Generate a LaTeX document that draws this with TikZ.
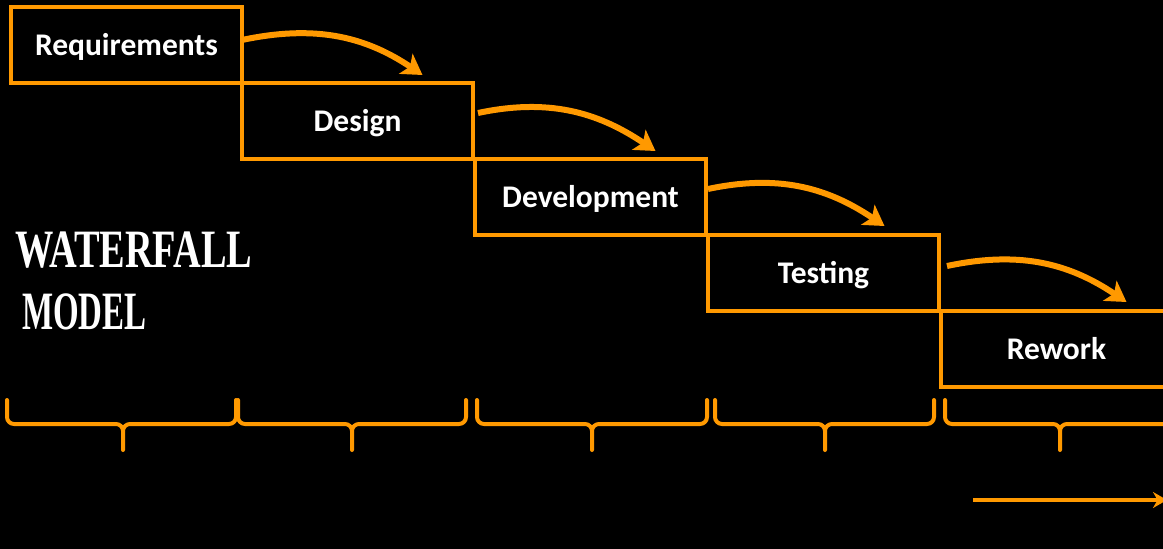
\documentclass[tikz,border=0pt]{standalone}
\usepackage{fontspec}
\setmainfont{Carlito}
\newfontfamily\titlefont{Liberation Serif}
\usepackage{tikz}
\usetikzlibrary{calc}
\usetikzlibrary{arrows.meta,positioning}

\definecolor{wforange}{RGB}{255,153,0}

\tikzset{
  phase/.style={draw=wforange,line width=3.5pt,outer sep=0pt,inner sep=0pt,
    minimum width=231pt,minimum height=76pt,text=white,
    text height=22pt,text depth=1pt,
    font=\bfseries\fontsize{31.5}{31.5}\selectfont},
  flow/.style={draw=wforange,line width=6pt,
    -{Stealth[length=20pt,width=24pt,inset=5pt]}},
  bracket/.style={draw=wforange,line width=4pt,line cap=round,line join=round},
  heading/.style={text=white,inner sep=0pt,anchor=base west,
    font=\titlefont\bfseries\fontsize{54}{54}\selectfont},
}

% one curly bracket under a phase: left end, tip, right end
\newcommand{\phasebrace}[3]{%
  \draw[bracket] (#1,400) -- (#1,417) to[out=-90,in=180] (#1+7,424)
    -- (#2-7,424) to[out=0,in=90] (#2,431) -- (#2,450);
  \draw[bracket] (#2,431) to[out=90,in=180] (#2+7,424)
    -- (#3-7,424) to[out=0,in=-90] (#3,417) -- (#3,400);}

\begin{document}
\begin{tikzpicture}[x=1pt,y=-1pt]

  \useasboundingbox (0,0) rectangle (1163,549);
  \clip (0,0) rectangle (1163,549);
  \fill[black] (0,0) rectangle (1163,549);

  \node[phase] (req) at (126.5,45) {Requirements};
  \node[phase,below right=0pt and 0pt of req] (des) {Design};
  \node[phase,below right=0pt and 2pt of des] (dev) {Development};
  \node[phase,below right=0pt and 2pt of dev] (tst) {Testing};
  \node[phase,below right=0pt and 2pt of tst] (rew) {Rework};

  \draw[flow] ([yshift=5pt]req.east) to[out=12,in=146] ($(des.north)+(65,-8)$);
  \draw[flow] ($(des.east)+(5,-8)$) to[out=12,in=146] ($(dev.north)+(65,-8)$);
  \draw[flow] ($(dev.east)+(2,-8)$) to[out=12,in=146] ($(tst.north)+(61,-9)$);
  \draw[flow] ($(tst.east)+(8,-7)$) to[out=12,in=146] ($(rew.north)+(70,-9)$);

  \node[heading] (wf) at (15,267) {\scalebox{0.71}[1]{WATERFALL}};
  \node[heading] (model) at (22,329) {\scalebox{0.61}[1]{MODEL}};

  \phasebrace{7}{123}{236}
  \phasebrace{238}{352}{466}
  \phasebrace{477}{592}{707}
  \phasebrace{715}{825}{934}
  \phasebrace{945}{1060}{1180}

  \coordinate (tstart) at (973,500);
  \coordinate (tend) at (1167,500);
  \draw[bracket,line cap=butt,-{Stealth[length=14pt,width=16pt]}] (tstart) -- (tend);

\end{tikzpicture}
\end{document}
